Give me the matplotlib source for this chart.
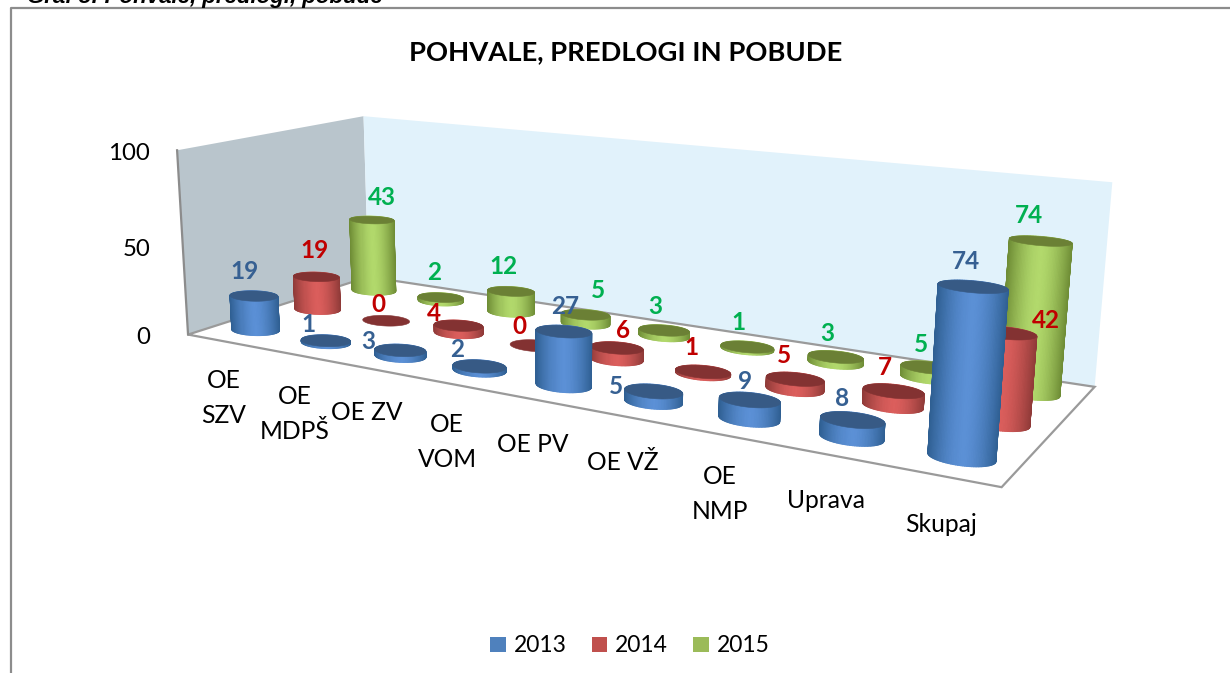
import numpy as np
import matplotlib
matplotlib.use("Agg")
import matplotlib.pyplot as plt
from matplotlib.patches import Patch, Polygon
from matplotlib.collections import PolyCollection

categories = ["OE\nSZV", "OE\nMDPŠ", "OE ZV", "OE\nVOM", "OE PV", "OE VŽ", "OE\nNMP", "Uprava", "Skupaj"]
years = ["2013", "2014", "2015"]
values_2013 = [19, 1, 3, 2, 27, 5, 9, 8, 74]
values_2014 = [19, 0, 4, 0, 6, 1, 5, 7, 42]
values_2015 = [43, 2, 12, 5, 3, 1, 3, 5, 74]
y_ticks = [0, 50, 100]

# layout / style
W, H = 1230, 673
FONT = "Lato"
calib = [((0, 0, 0), (190, 335)), ((9, 0, 0), (1002, 492)), ((9, 3, 0), (1095, 388)), ((0, 3, 0), (366, 277)),
         ((0, 0, 100), (175, 150)), ((0, 3, 100), (366, 116)), ((9, 3, 100), (1112, 182)),
         ((8.5, 0.5, 0), (962, 450)), ((8.5, 0.5, 74), (972, 288))]
RU, RV = 0.29, 0.20
label_colors = ["#366092", "#C00000", "#00B050"]
light = ["#5B90D6", "#DB5E5C", "#B2D96C"]
edge = ["#2F5F92", "#8F3A38", "#6E8C35"]
cap = ["#375A85", "#833232", "#6B8035"]
legend_colors = ["#4F81BD", "#C0504D", "#9BBB59"]
tick_pos = [(150, 338), (150, 250), (150, 153)]
cat_pos = [(224, 398), (295, 414), (367, 412), (447, 442), (533, 445), (623, 462), (720, 494), (826, 501), (941, 524)]
# data-label offsets from the top of each cylinder, in pixels
label_dx = [[-9, -17, -32, -22, 1, -38, -5, -10, -7],
            [-2, -8, -25, -16, 6, -11, -11, -9, 42],
            [10, -7, -8, 12, -9, -9, -9, -9, -12]]
label_dy = [[-24, -16, -9, -17, -25, -5, -18, -21, -25],
            [-26, -16, -12, -19, -17, -24, -24, -24, -12],
            [-23, -25, -25, -24, -24, -24, -23, -23, -26]]


def fit_projection(pairs):
    rows = []
    for (u, v, w), (x, y) in pairs:
        rows.append([u, v, w, 1, 0, 0, 0, 0, -x * u, -x * v, -x * w, -x])
        rows.append([0, 0, 0, 0, u, v, w, 1, -y * u, -y * v, -y * w, -y])
    return np.linalg.svd(np.array(rows, float))[2][-1].reshape(3, 4)


P = fit_projection(calib)


def proj(u, v, w):
    u, v, w = np.broadcast_arrays(u, v, w)
    q = P @ np.vstack([u.ravel(), v.ravel(), w.ravel(), np.ones(u.size)])
    return np.column_stack([q[0] / q[2], q[1] / q[2]])


def mix(a, b, t):
    ca, cb = np.array(matplotlib.colors.to_rgb(a)), np.array(matplotlib.colors.to_rgb(b))
    return tuple(ca + (cb - ca) * t)


fig = plt.figure(figsize=(W / 100, H / 100), dpi=100)
ax = fig.add_axes([0, 0, 1, 1])
ax.set_xlim(0, W)
ax.set_ylim(H, 0)
ax.axis("off")

# chart border (left and top only are inside the picture)
ax.plot([10.5, 10.5, W], [H, 8, 8], color="#8C8C8C", lw=1.6, zorder=1)

# walls and floor
ax.add_patch(Polygon(proj([0, 0, 0, 0], [0, 3, 3, 0], [0, 0, 100, 100]), fc="#B9C5CC", ec="none", zorder=2))
ax.add_patch(Polygon(proj([0, 9, 9, 0], [3, 3, 3, 3], [0, 0, 100, 100]), fc="#E1F2FB", ec="none", zorder=2))
ax.add_patch(Polygon(proj([0, 9, 9, 0], [0, 0, 3, 3], [0, 0, 0, 0]), fc="white", ec="#9A9A9A", lw=1.6, zorder=3))
ax.plot(*proj([0, 0], [0, 0], [0, 100]).T, color="#8C8C8C", lw=1.6, zorder=3)

# cylinders, back to front
series = [values_2013, values_2014, values_2015]
theta = np.linspace(0, 2 * np.pi, 121)
z = 10
for s in (2, 1, 0):
    for i, val in enumerate(series[s]):
        cu, cv = i + 0.5, s + 0.5
        us, vs = cu + RU * np.cos(theta), cv + RV * np.sin(theta)
        base, top = proj(us, vs, 0), proj(us, vs, val)
        if val > 0:
            lo, hi = base[:, 0].min(), base[:, 0].max()
            order = np.argsort(-np.sin((theta[:-1] + theta[1:]) / 2))
            polys, cols = [], []
            for k in order:
                polys.append([base[k], base[k + 1], top[k + 1], top[k]])
                tt = (0.5 * (base[k, 0] + base[k + 1, 0]) - lo) / (hi - lo)
                cols.append(mix(edge[s], light[s], max(0.0, 1 - abs(2 * tt - 1) ** 1.6)))
            ax.add_collection(PolyCollection(polys, facecolors=cols, edgecolors=cols, linewidths=0.8, zorder=z))
        ax.add_patch(Polygon(top, fc=cap[s], ec=cap[s], lw=0.4, zorder=z + 0.5))
        tc = proj(cu, cv, val)[0]
        ax.text(tc[0] + label_dx[s][i], tc[1] + label_dy[s][i], str(val), color=label_colors[s], fontsize=17.5,
                fontweight="bold", family=FONT, ha="center", va="center", zorder=100)
        z += 1

# axis text
for t, (x, y) in zip(y_ticks, tick_pos):
    ax.text(x, y, str(t), fontsize=17.3, family=FONT, ha="right", va="center", zorder=100)
for c, (x, y) in zip(categories, cat_pos):
    ax.text(x, y, c, fontsize=17.7, family=FONT, ha="center", va="center", zorder=100, linespacing=1.6)

ax.text(626, 52, "POHVALE, PREDLOGI IN POBUDE", fontsize=19.7, fontweight="bold", family=FONT,
        ha="center", va="center", zorder=100)
ax.text(27, 3, "Graf 5: Pohvale, predlogi, pobude", fontsize=16, style="italic", fontweight="bold",
        family="Liberation Sans", ha="left", va="baseline", zorder=100, clip_on=True)

handles = [Patch(fc=c, ec="none", label=y) for c, y in zip(legend_colors, years)]
ax.legend(handles=handles, ncol=3, loc="center", bbox_to_anchor=(630 / W, 1 - 646 / H), frameon=False,
          prop={"family": FONT, "size": 16.5}, handlelength=0.68, handleheight=0.68, handletextpad=0.35,
          columnspacing=1.1, borderpad=0)

fig.savefig("out.png", dpi=100)
